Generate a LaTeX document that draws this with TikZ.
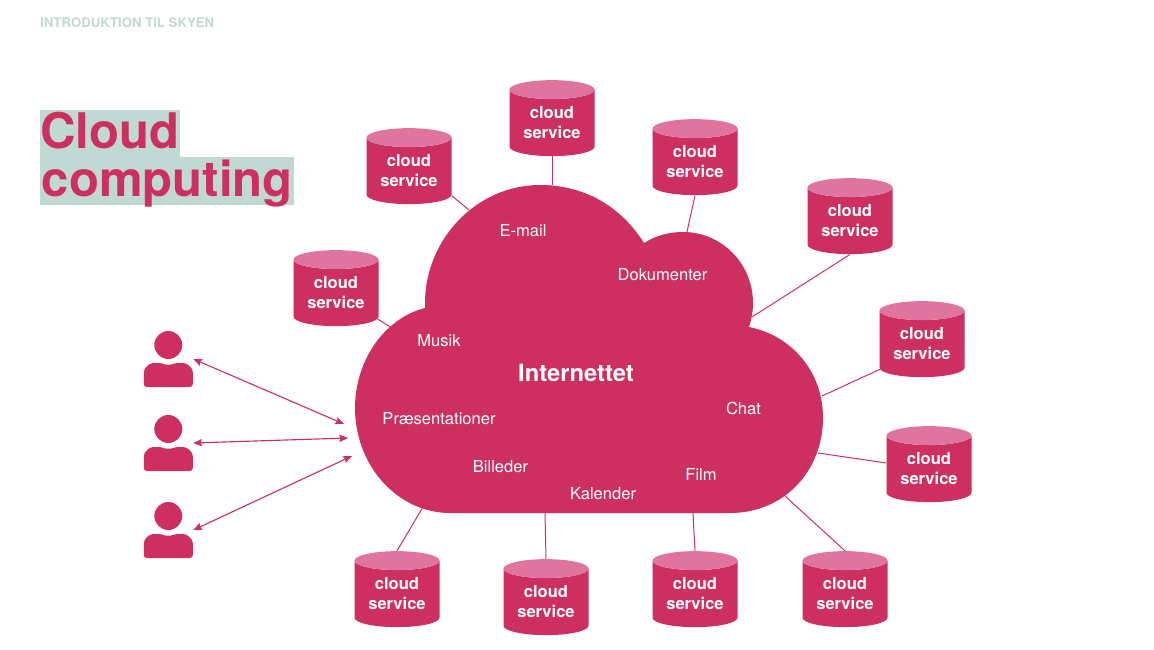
\documentclass[tikz,border=0pt]{standalone}
\usepackage{fontspec}
\setmainfont{TeX Gyre Heros}
\usetikzlibrary{arrows.meta, shapes.geometric}
\definecolor{cloudred}{RGB}{205, 48, 96}
\definecolor{lidpink}{RGB}{223, 117, 158}
\definecolor{mintgreen}{RGB}{192, 217, 210}

\begin{document}
\begin{tikzpicture}[
    x=0.75pt, y=-0.75pt,
    >={Stealth[length=6.5pt, width=5.5pt, inset=1pt]},
    service/.style={cylinder, shape border rotate=90, aspect=0.33, cylinder uses custom fill,
        cylinder body fill=cloudred, cylinder end fill=lidpink, draw=none, inner sep=0pt,
        minimum width=63.75pt, minimum height=57pt, text=white, align=center,
        font=\fontsize{12.4pt}{15pt}\selectfont\bfseries},
    link/.style={line width=0.75pt, cloudred},
    arrow/.style={<->, line width=0.85pt, cloudred},
    label/.style={text=white, inner sep=0pt, font=\fontsize{12.4pt}{15pt}\selectfont},
    titlebar/.style={fill=mintgreen, text=cloudred, anchor=west, inner xsep=0pt, inner ysep=0pt,
        text height=29pt, text depth=6.5pt, font=\fontsize{36.8pt}{40pt}\selectfont\bfseries},
    person/.pic={
        \fill[cloudred] (0,0) circle (14);
        \fill[cloudred, rounded corners=2.2pt] (-24.5,42) -- (-24.5,30) .. controls (-24.5,23) and (-19,18) .. (-12,18)
            .. controls (-7,18) and (-4,19.5) .. (0,19.5) .. controls (4,19.5) and (7,18) .. (12,18)
            .. controls (19,18) and (24.5,23) .. (24.5,30) -- (24.5,42) -- cycle;
        \coordinate (-arm) at (25,14);
    },
]
\useasboundingbox (0,0) rectangle (1154,650);

% ===== title =====
\node[text=mintgreen, anchor=base west, inner sep=0pt, font=\fontsize{9.9pt}{12pt}\selectfont\bfseries] (header) at (40,27.2) {INTRODUKTION TIL SKYEN};
\node[titlebar, minimum width=104.6pt] (title1) at (40,133.5) {Cloud};
\node[titlebar, minimum width=190.5pt] (title2) at (40,181) {computing};

% ===== cloud =====
\fill[cloudred] (450,513) -- (730,513) .. controls (785,513) and (823,470) .. (823,418)
    .. controls (823,370) and (790,335) .. (749,327)
    .. controls (752,318) and (753,310) .. (753,303)
    .. controls (753,264) and (722,232) .. (683,232)
    .. controls (668,232) and (655,236) .. (644,243)
    .. controls (620,205) and (583,185) .. (540,185)
    .. controls (476,185) and (425,240) .. (425,303)
    -- (425,308)
    .. controls (385,318) and (355,360) .. (355,408)
    .. controls (355,466) and (398,513) .. (450,513) -- cycle;

% labels
\node[label, font=\fontsize{17.8pt}{20pt}\selectfont\bfseries] (internet) at (576,373) {Internettet};
\node[label] (email) at (523,230.7) {E-mail};
\node[label] (docs) at (662.5,274.7) {Dokumenter};
\node[label] (music) at (439,340.7) {Musik};
\node[label] (slides) at (439,418.7) {Præsentationer};
\node[label] (chat) at (743.5,408) {Chat};
\node[label] (photos) at (500.5,466.7) {Billeder};
\node[label] (film) at (701,474) {Film};
\node[label] (calendar) at (603,493.7) {Kalender};

% ===== cloud services =====
\foreach \name/\x/\y in {s1/552/123, s2/409/171, s3/695/162, s4/850/221, s5/922/344,
    s6/929/469, s7/845/594, s8/695/594, s9/546/602, s10/397/594, s11/336/293} {
    \node[service] (\name) at (\x,\y) {cloud\\service};
}

% points on the cloud edge
\coordinate (e1) at (552,185);
\coordinate (e2) at (469,210);
\coordinate (e3) at (687,232);
\coordinate (e4) at (752,317);
\coordinate (e5) at (822,396);
\coordinate (e6) at (818,453);
\coordinate (e7) at (785,496);
\coordinate (e8) at (693,513);
\coordinate (e9) at (545,513);
\coordinate (e10) at (423,507);
\coordinate (e11) at (392,328);

\foreach \i/\side in {1/south, 2/-30, 3/south, 4/south, 5/211, 6/172, 7/north, 8/north, 9/north, 10/north, 11/-32} {
    \draw[link] (s\i.\side) -- (e\i);
}

% ===== users =====
\pic (user1) at (168.3,345) {person};
\pic (user2) at (168.3,429) {person};
\pic (user3) at (168.3,516) {person};

\coordinate (hub1) at (344,424);
\coordinate (hub2) at (348,438);
\coordinate (hub3) at (352,456);

\draw[arrow] (user1-arm) -- (hub1);
\draw[arrow] (user2-arm) -- (hub2);
\draw[arrow] (user3-arm) -- (hub3);

\end{tikzpicture}
\end{document}
